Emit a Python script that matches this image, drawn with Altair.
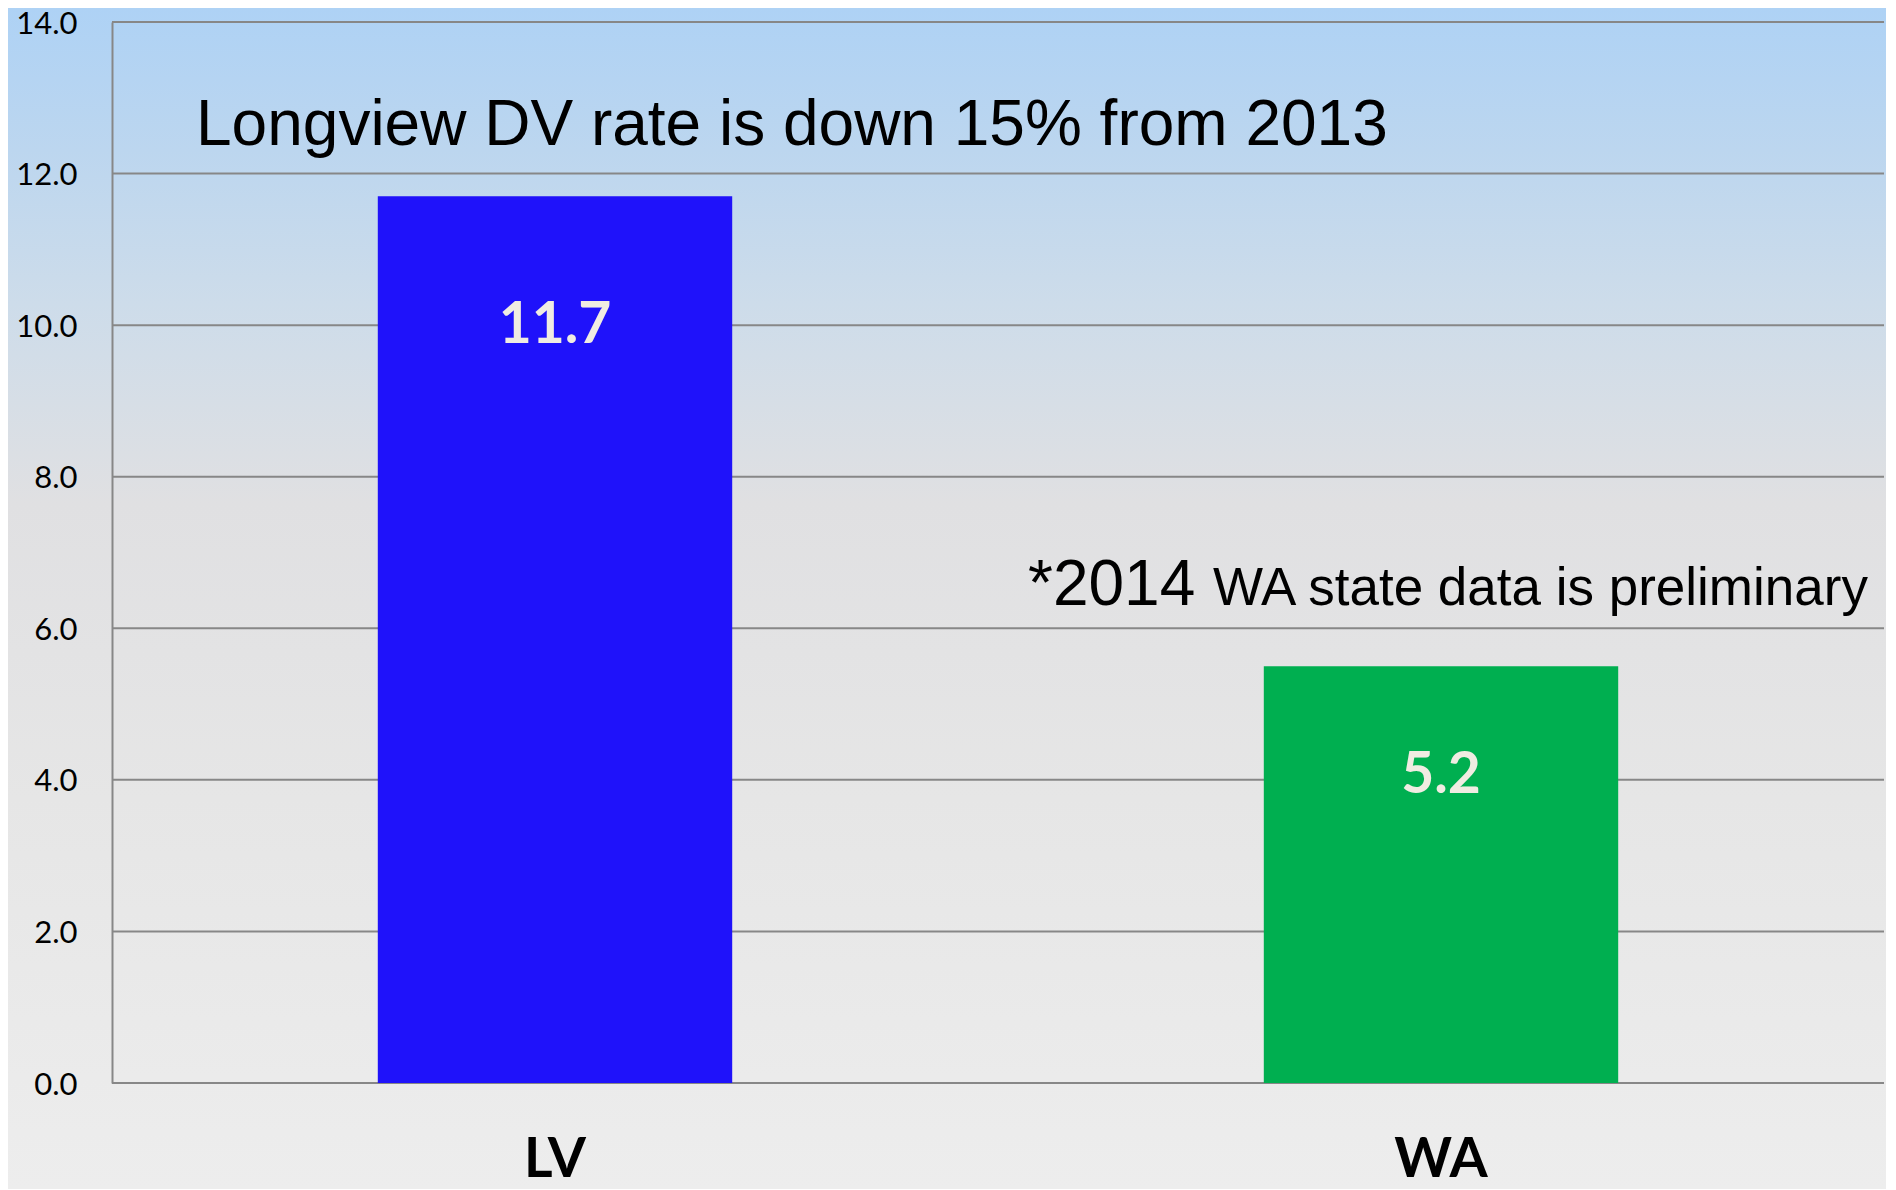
import altair as alt
import pandas as pd

# ---- data ----
categories = ["LV", "WA"]
bar_values = [11.7, 5.5]
bar_labels = ["11.7", "5.2"]
bar_colors = ["#1F12FA", "#00AF50"]
grid_values = [0, 2, 4, 6, 8, 10, 12, 14]

df = pd.DataFrame({"cat": categories, "value": bar_values, "label": bar_labels})
grid_df = pd.DataFrame({"value": grid_values})
bg_df = pd.DataFrame({"bg": [0]})

W, H = 1772, 1061
PAD = {"left": 104, "top": 14, "right": 2, "bottom": 106}

yscale = alt.Scale(domain=[0, 14], nice=False, zero=True)
yaxis = alt.Axis(
    values=grid_values, format=".1f", grid=False, ticks=False, tickSize=0,
    labelFont="Lato", labelFontSize=31, labelColor="#000000", labelPadding=35,
    labelBaseline="alphabetic", labelOffset=11,
    domain=True, domainColor="#878787", domainWidth=2, title=None, zindex=1,
)
xscale = alt.Scale(domain=categories, paddingInner=0.6, paddingOuter=0.3)
xaxis = alt.Axis(
    labelAngle=0, labelFont="Lato", labelFontSize=55, labelFontWeight="bold",
    labelColor="#000000", labelPadding=50, ticks=False, tickSize=0, domain=False,
    title=None, zindex=1,
)
Y = alt.Y("value:Q", scale=yscale, axis=yaxis)

gradient = alt.Gradient(
    gradient="linear", x1=0, x2=0, y1=0, y2=1,
    stops=[
        alt.GradientStop(color="#AED2F5", offset=0.0),
        alt.GradientStop(color="#BCD6EF", offset=0.12),
        alt.GradientStop(color="#CDDCEA", offset=0.25),
        alt.GradientStop(color="#E0E0E2", offset=0.42),
        alt.GradientStop(color="#E6E6E6", offset=0.67),
        alt.GradientStop(color="#EDEDED", offset=1.0),
    ],
)

background = alt.Chart(bg_df).mark_rect(fill=gradient, stroke=None).encode(
    x=alt.value(-PAD["left"]), x2=alt.value(W + PAD["right"]),
    y=alt.value(-PAD["top"]), y2=alt.value(H + PAD["bottom"]),
)

grid = alt.Chart(grid_df).mark_rule(color="#878787", strokeWidth=2).encode(y=Y)

bars = alt.Chart(df).mark_bar().encode(
    x=alt.X("cat:N", scale=xscale, axis=xaxis),
    y=Y,
    color=alt.Color("cat:N", scale=alt.Scale(domain=categories, range=bar_colors), legend=None),
)

def value_text(cat, dy):
    return alt.Chart(df).transform_filter(alt.datum.cat == cat).mark_text(
        font="Lato", fontSize=57, fontWeight="bold", color="#F0ECE2",
        baseline="middle", align="center", dy=dy,
    ).encode(x=alt.X("cat:N", scale=xscale, axis=xaxis), y=Y, text="label:N")

lv_text = value_text("LV", 130)
wa_text = value_text("WA", 110)

note1 = alt.Chart(bg_df).mark_text(
    text="Longview DV rate is down 15% from 2013", font="Liberation Sans",
    fontSize=64, color="#000000", align="left", baseline="alphabetic",
).encode(x=alt.value(84), y=alt.value(123))

note2a = alt.Chart(bg_df).mark_text(
    text="*2014", font="Liberation Sans", fontSize=64, color="#000000",
    align="left", baseline="alphabetic",
).encode(x=alt.value(916), y=alt.value(583))

note2b = alt.Chart(bg_df).mark_text(
    text="WA state data is preliminary", font="Liberation Sans", fontSize=53,
    color="#000000", align="left", baseline="alphabetic",
).encode(x=alt.value(1101), y=alt.value(583))

chart = alt.layer(
    background, grid, bars, lv_text, wa_text, note1, note2a, note2b
).properties(
    width=W, height=H,
    autosize=alt.AutoSizeParams(type="none"),
    padding=PAD,
    background="#EDEDED",
).configure_view(stroke=None)

chart.save("out.html", embed_options={"renderer": "svg", "actions": False})
